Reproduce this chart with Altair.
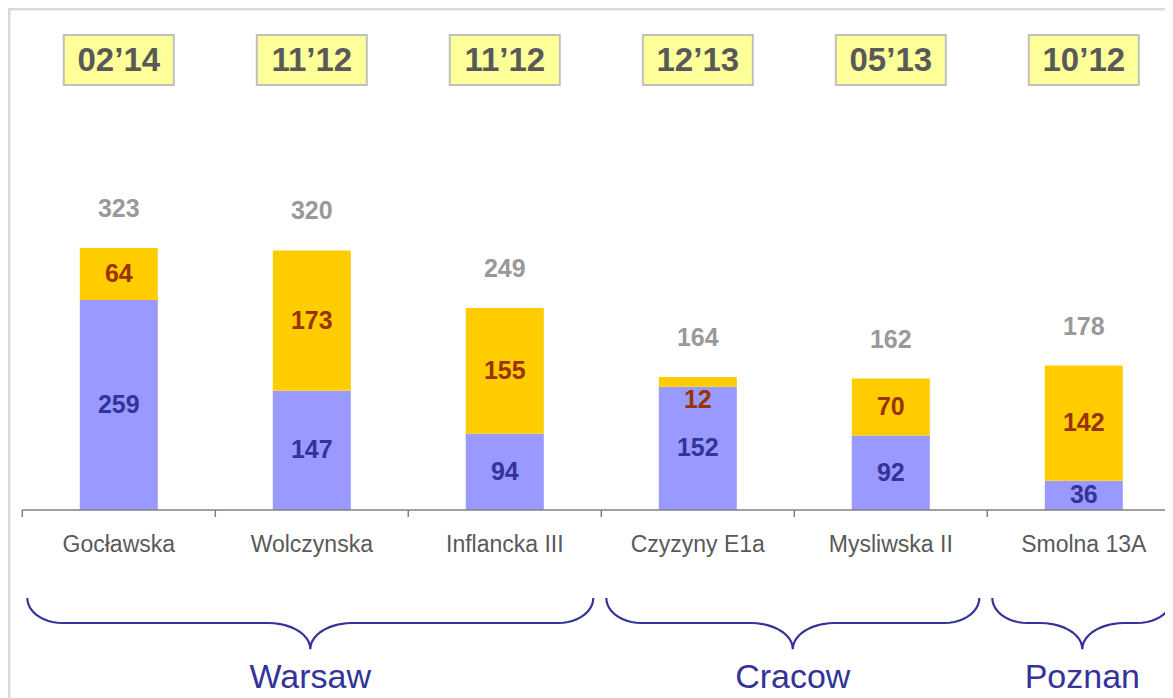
import altair as alt
import numpy as np
import pandas as pd

# ---------------- data ----------------
projects = ["Gocławska", "Wolczynska", "Inflancka III", "Czyzyny E1a", "Mysliwska II", "Smolna 13A"]
dates = ["02’14", "11’12", "11’12", "12’13", "05’13", "10’12"]
bottom_vals = [259, 147, 94, 152, 92, 36]
top_vals = [64, 173, 155, 12, 70, 142]
totals = [323, 320, 249, 164, 162, 178]
regions = ["Warsaw", "Cracow", "Poznan"]
region_first = [0, 3, 5]
region_last = [2, 4, 5]

# ---------------- layout ----------------
W, H = 1157, 690
CAT_PX = 193.0          # width of one category in px
CAT0_PX = 14.3          # px of left edge of first category
UNIT_PX = 0.8111        # px per value unit
BASE_PX = 502.0         # px of the zero line


def u(px):
    return (px - CAT0_PX) / CAT_PX


def v(py):
    return (BASE_PX - py) / UNIT_PX


xdom = [u(0), u(W)]
ydom = [v(H), v(0)]
xs = alt.Scale(domain=xdom, nice=False, zero=False, padding=0)
ys = alt.Scale(domain=ydom, nice=False, zero=False, padding=0)

FONT = "Liberation Sans"
n = len(projects)
centers = [i + 0.5 for i in range(n)]

# bars
rows = []
for i in range(n):
    rows.append(dict(c=centers[i], seg="bottom", y0=0, y1=bottom_vals[i]))
    rows.append(dict(c=centers[i], seg="top", y0=bottom_vals[i], y1=bottom_vals[i] + top_vals[i]))
bars_df = pd.DataFrame(rows)

bot_lab = pd.DataFrame(dict(c=centers, y=[b / 2 for b in bottom_vals], txt=[str(b) for b in bottom_vals]))
top_lab = pd.DataFrame(dict(
    c=centers,
    y=[b + t / 2 if t >= 20 else b - 16 for b, t in zip(bottom_vals, top_vals)],
    txt=[str(t) for t in top_vals]))

tot_df = pd.DataFrame(dict(c=centers, y=totals, txt=[str(t) for t in totals]))
cat_df = pd.DataFrame(dict(c=centers, name=projects, date=dates,
                           bx0=[c - 0.285 for c in centers], bx1=[c + 0.285 for c in centers]))

# braces (decoration), geometry in px then converted
Y_TOP, Y_TIP = 590.0, 641.0
ERX, ERY, MRX, MRY = 35.0, 25.0, 42.0, 26.0
br_rows = []
reg_rows = []
for g, name in enumerate(regions):
    xl = CAT0_PX + CAT_PX * region_first[g] + 5
    xr = CAT0_PX + CAT_PX * (region_last[g] + 1) - 8
    tip = (xl + xr) / 2
    pts = []
    th = np.linspace(np.pi, np.pi / 2, 12)
    pts += list(zip(xl + ERX + ERX * np.cos(th), Y_TOP + ERY * np.sin(th)))
    th = np.linspace(-np.pi / 2, 0, 12)
    pts += list(zip(tip - MRX + MRX * np.cos(th), Y_TIP + MRY * np.sin(th)))
    th = np.linspace(np.pi, 1.5 * np.pi, 12)
    pts += list(zip(tip + MRX + MRX * np.cos(th), Y_TIP + MRY * np.sin(th)))
    th = np.linspace(np.pi / 2, 0, 12)
    pts += list(zip(xr - ERX + ERX * np.cos(th), Y_TOP + ERY * np.sin(th)))
    for k, (px, py) in enumerate(pts):
        br_rows.append(dict(g=name, o=k, x=u(px), y=v(py)))
    reg_rows.append(dict(name=name, c=u(tip)))
br_df = pd.DataFrame(br_rows)
reg_df = pd.DataFrame(reg_rows)

X = lambda f: alt.X(f, type="quantitative", scale=xs, axis=None)
Y = lambda f: alt.Y(f, type="quantitative", scale=ys, axis=None)

frame_l = alt.Chart(pd.DataFrame({"a": [0]})).mark_rule(color="#D9D9D9", strokeWidth=3).encode(
    x=alt.value(1), y=alt.value(0), y2=alt.value(H))
frame_t = alt.Chart(pd.DataFrame({"a": [0]})).mark_rule(color="#D9D9D9", strokeWidth=3).encode(
    y=alt.value(1), x=alt.value(0), x2=alt.value(W))

bars = alt.Chart(bars_df).mark_bar(size=78).encode(
    x=X("c"), y=Y("y0"), y2="y1",
    color=alt.Color("seg:N", scale=alt.Scale(domain=["bottom", "top"], range=["#9999FF", "#FFCC00"]), legend=None))

bot_labels = alt.Chart(bot_lab).mark_text(font=FONT, fontSize=25, fontWeight="bold", baseline="middle",
                                          color="#333399").encode(x=X("c"), y=Y("y"), text="txt:N")
top_labels = alt.Chart(top_lab).mark_text(font=FONT, fontSize=25, fontWeight="bold", baseline="middle",
                                          color="#993300").encode(x=X("c"), y=Y("y"), text="txt:N")

tot_labels = alt.Chart(tot_df).mark_text(font=FONT, fontSize=25, fontWeight="bold", baseline="middle",
                                         dy=-39, color="#999999").encode(x=X("c"), y=Y("y"), text="txt:N")

axis_line = alt.Chart(pd.DataFrame({"a": [0], "b": [n], "z": [0]})).mark_rule(color="#808080", strokeWidth=1.5).encode(
    x=X("a"), x2="b", y=Y("z"))
ticks_df = pd.DataFrame({"t": list(range(n + 1)), "z": [0] * (n + 1)})
ticks = alt.Chart(ticks_df).mark_rule(color="#808080", strokeWidth=1.5).encode(
    x=X("t"), y=Y("z"), y2=alt.value(BASE_PX + 7))

cat_text = alt.Chart(cat_df).mark_text(font=FONT, fontSize=23, color="#595959", baseline="middle").encode(
    x=X("c"), y=alt.value(537), text="name:N")

date_box = alt.Chart(cat_df).mark_rect(fill="#FFFF99", stroke="#C0C0C0", strokeWidth=2).encode(
    x=X("bx0"), x2="bx1", y=alt.value(27), y2=alt.value(77))
date_text = alt.Chart(cat_df).mark_text(font=FONT, fontSize=33, fontWeight="bold", color="#595959",
                                        baseline="middle", dy=1).encode(
    x=X("c"), y=alt.value(52), text="date:N")

braces = alt.Chart(br_df).mark_line(color="#333399", strokeWidth=2.2).encode(
    x=X("x"), y=Y("y"), detail="g:N", order="o:Q")
reg_text = alt.Chart(reg_df).mark_text(font=FONT, fontSize=34, color="#333399", baseline="alphabetic").encode(
    x=X("c"), y=alt.value(680), text="name:N")

chart = alt.layer(frame_l, frame_t, bars, bot_labels, top_labels, tot_labels, axis_line, ticks, cat_text,
                  date_box, date_text, braces, reg_text).properties(
    width=W, height=H, padding=0, autosize=alt.AutoSizeParams(type="none"),
    background="white"
).configure_view(stroke=None)

chart.save("out.html", embed_options={"renderer": "svg", "actions": False})
